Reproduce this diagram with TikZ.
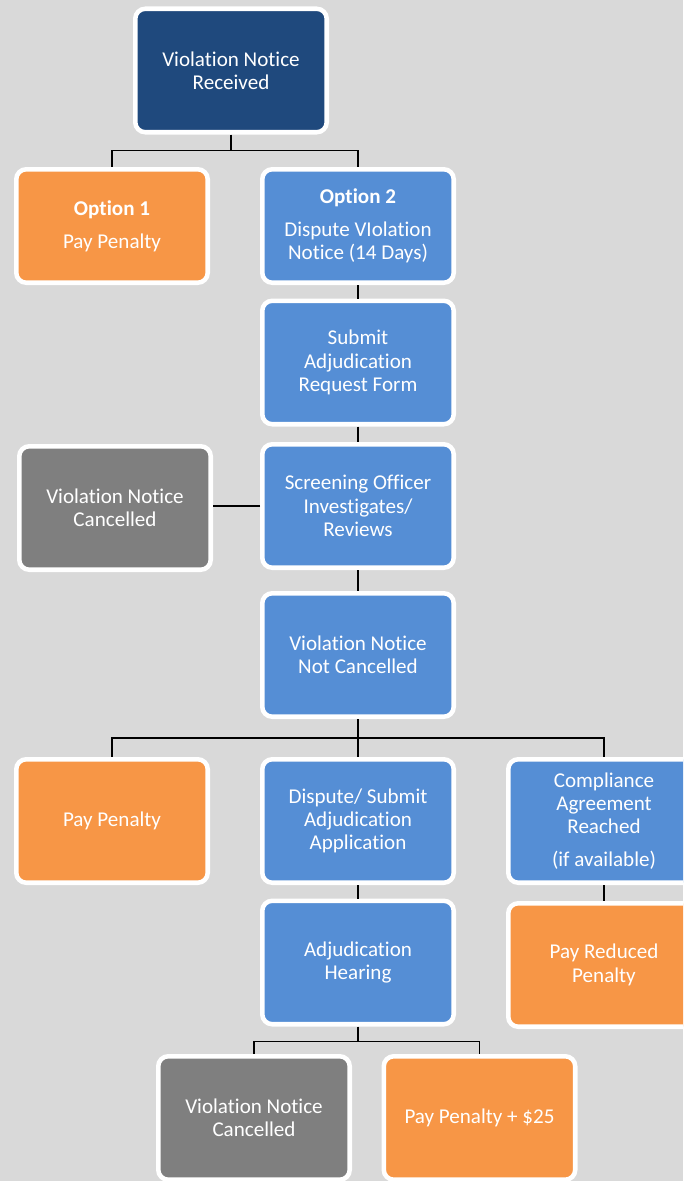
\documentclass[tikz,border=0pt]{standalone}
\usepackage{fontspec}
\setmainfont{Carlito}[RawFeature={-liga;-clig;-dlig}]
\definecolor{bggray}{HTML}{D9D9D9}
\definecolor{navy}{HTML}{1F497D}
\definecolor{midblue}{HTML}{558ED5}
\definecolor{orng}{HTML}{F79646}
\definecolor{slate}{HTML}{7F7F7F}
\begin{document}
\begin{tikzpicture}[x=0.75pt, y=-0.75pt,
    box/.style={draw=white, line width=3.4pt, rounded corners=7.5pt, text=white,
        align=center, minimum width=143.6pt, minimum height=92.6pt,
        font=\fontsize{15.8}{17.5}\selectfont},
    navybox/.style={box, fill=navy},
    bluebox/.style={box, fill=midblue},
    orangebox/.style={box, fill=orng},
    greybox/.style={box, fill=slate},
    link/.style={draw=black, line width=0.9pt}]
    % background and frame
    \useasboundingbox (0,0) rectangle (683,1181);
    \clip (0,0) rectangle (683,1181);
    \fill[bggray] (0,0) rectangle (683,1181);

    % boxes
    \node[navybox] (recv) at (231, 70.5) {Violation Notice\\Received};
    \node[orangebox, minimum height=85.1pt] (opt1) at (112, 226) {\textbf{Option 1}\\[7pt]Pay Penalty};
    \node[bluebox, minimum height=85.1pt] (opt2) at (358, 226) {\textbf{Option 2}\\[7pt]Dispute VIolation\\Notice (14 Days)};
    \node[bluebox] (submit) at (358, 362.5) {Submit\\Adjudication\\Request Form};
    \node[bluebox] (screen) at (358, 506) {Screening Officer\\Investigates/\\Reviews};
    \node[greybox] (cancel1) at (115, 508) {Violation Notice\\Cancelled};
    \node[bluebox] (notcanc) at (358, 655) {Violation Notice\\Not Cancelled};
    \node[orangebox] (pay2) at (112, 821) {Pay Penalty};
    \node[bluebox] (dispute) at (358, 821) {Dispute/ Submit\\Adjudication\\Application};
    \node[bluebox] (comply) at (604, 821) {Compliance\\Agreement\\Reached\\[7pt](if available)};
    \node[bluebox] (hearing) at (358, 962.5) {Adjudication\\Hearing};
    \node[orangebox] (reduced) at (604, 965) {Pay Reduced\\Penalty};
    \node[greybox] (cancel2) at (254, 1118) {Violation Notice\\Cancelled};
    \node[orangebox] (pay25) at (479.5, 1118) {Pay Penalty + \$25};

    % connectors
    \draw[link] (recv.south) -- ++(0,16) coordinate (split1);
    \draw[link] (split1) -| (opt1.north);
    \draw[link] (split1) -| (opt2.north);
    \draw[link] (opt2.south) -- (submit.north);
    \draw[link] (submit.south) -- (screen.north);
    \draw[link] (screen.west) -- (screen.west -| cancel1.east);
    \draw[link] (screen.south) -- (notcanc.north);
    \draw[link] (notcanc.south) -- ++(0,19) coordinate (split2);
    \draw[link] (split2) -| (pay2.north);
    \draw[link] (split2) -- (dispute.north);
    \draw[link] (split2) -| (comply.north);
    \draw[link] (dispute.south) -- (hearing.north);
    \draw[link] (comply.south) -- (reduced.north);
    \draw[link] (hearing.south) -- ++(0,15) coordinate (split3);
    \draw[link] (split3) -| (cancel2.north);
    \draw[link] (split3) -| (pay25.north);
\end{tikzpicture}
\end{document}
